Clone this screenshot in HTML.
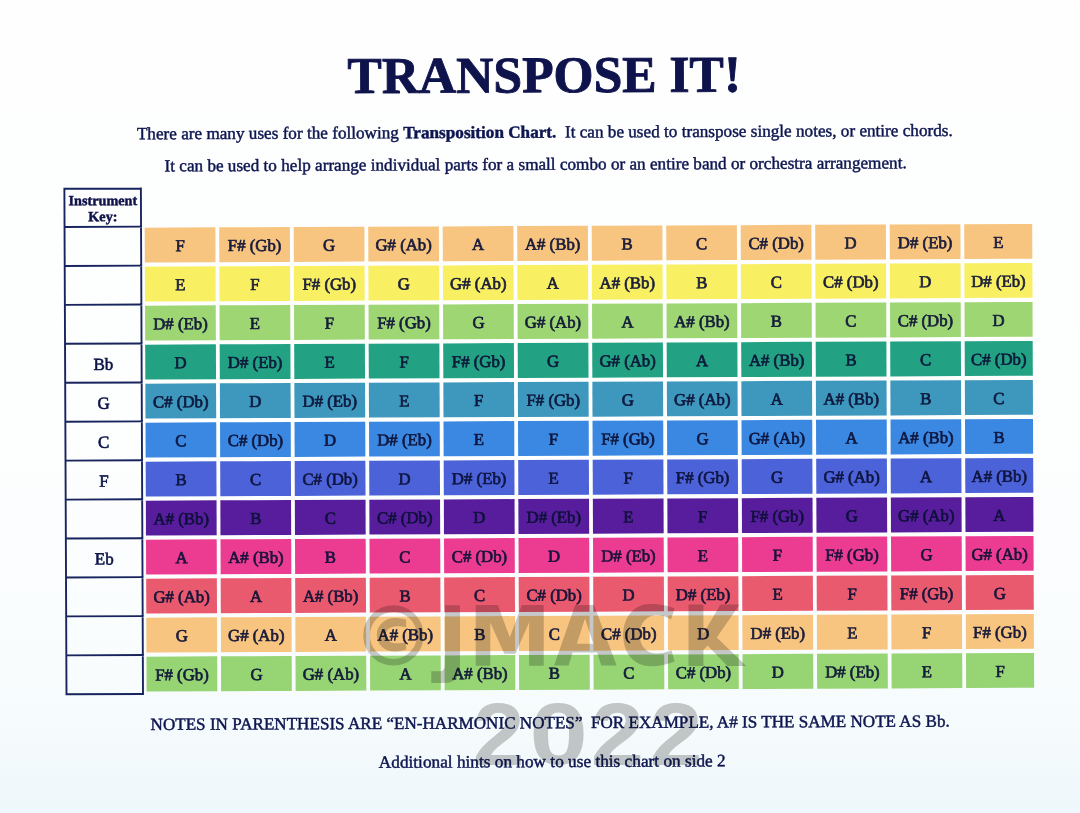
<!DOCTYPE html>
<html><head><meta charset="utf-8"><title>Transpose It!</title>
<style>
html,body{margin:0;padding:0;}
body{width:1080px;height:813px;overflow:hidden;position:relative;background:linear-gradient(180deg,#fefefe 0%,#fdfefe 55%,#fafdfe 78%,#f4fafc 92%,#eef7fb 100%);}
svg{position:absolute;left:0;top:0;filter:blur(0.45px);}
text{font-family:"Liberation Serif",serif;}
#wm{mix-blend-mode:multiply;}
#wm text{font-family:"Liberation Sans",sans-serif;font-weight:bold;}
</style></head><body>
<svg width="1080" height="813" viewBox="0 0 1080 813">
<g transform="rotate(-0.24 540 406.5)">
<text x="348.9" y="92.3" font-size="51.5" font-weight="bold" fill="#0f134c" stroke="#0f134c" stroke-width="0.9">TRANSPOSE IT!</text>
<g font-size="17.1" fill="#0d1650" stroke="#0d1650" stroke-width="0.45">
<text x="138.0" y="137.65" font-size="17.17" xml:space="preserve">There are many uses for the following <tspan font-weight="bold">Transposition Chart.</tspan>  It can be used to transpose single notes, or entire chords.</text>
<text x="165.5" y="169.85" font-size="17.17">It can be used to help arrange individual parts for a small combo or an entire band or orchestra arrangement.</text>
<text x="149.2" y="728.3" xml:space="preserve">NOTES IN PARENTHESIS ARE “EN-HARMONIC NOTES”  FOR EXAMPLE, A# IS THE SAME NOTE AS Bb.</text>
<text x="377.3" y="767.1" font-size="17.25">Additional hints on how to use this chart on side 2</text>
</g>
<g font-size="14.2" font-weight="bold" fill="#0e1248" stroke="#0e1248" stroke-width="0.45" text-anchor="middle">
<text x="103.7" y="203.40">Instrument</text>
<text x="103.7" y="219.40">Key:</text>
</g>
<path d="M65.30 185.85V693.25M141.80 185.85V693.25M64.35 186.80H142.75M64.35 225.00H142.75M64.35 263.94H142.75M64.35 302.88H142.75M64.35 341.82H142.75M64.35 380.77H142.75M64.35 419.71H142.75M64.35 458.65H142.75M64.35 497.59H142.75M64.35 536.53H142.75M64.35 575.47H142.75M64.35 614.42H142.75M64.35 653.36H142.75M64.35 692.30H142.75" stroke="#18245e" stroke-width="1.9" fill="none"/>
<g font-size="17" fill="#0c1448" stroke="#0c1448" stroke-width="0.6" text-anchor="middle"><text x="103.55" y="368.02">Bb</text><text x="103.55" y="406.97">G</text><text x="103.55" y="445.91">C</text><text x="103.55" y="484.85">F</text><text x="103.55" y="562.73">Eb</text></g>
<g><rect x="145.45" y="226.00" width="70.70" height="34.85" fill="#f7c580"/><rect x="219.95" y="226.00" width="70.70" height="34.85" fill="#f7c580"/><rect x="294.45" y="226.00" width="70.70" height="34.85" fill="#f7c580"/><rect x="368.95" y="226.00" width="70.70" height="34.85" fill="#f7c580"/><rect x="443.45" y="226.00" width="70.70" height="34.85" fill="#f7c580"/><rect x="517.95" y="226.00" width="70.70" height="34.85" fill="#f7c580"/><rect x="592.45" y="226.00" width="70.70" height="34.85" fill="#f7c580"/><rect x="666.95" y="226.00" width="70.70" height="34.85" fill="#f7c580"/><rect x="741.45" y="226.00" width="70.70" height="34.85" fill="#f7c580"/><rect x="815.95" y="226.00" width="70.70" height="34.85" fill="#f7c580"/><rect x="890.45" y="226.00" width="70.70" height="34.85" fill="#f7c580"/><rect x="964.95" y="226.00" width="68.00" height="34.85" fill="#f7c580"/><rect x="145.45" y="265.00" width="70.70" height="34.85" fill="#f8f062"/><rect x="219.95" y="265.00" width="70.70" height="34.85" fill="#f8f062"/><rect x="294.45" y="265.00" width="70.70" height="34.85" fill="#f8f062"/><rect x="368.95" y="265.00" width="70.70" height="34.85" fill="#f8f062"/><rect x="443.45" y="265.00" width="70.70" height="34.85" fill="#f8f062"/><rect x="517.95" y="265.00" width="70.70" height="34.85" fill="#f8f062"/><rect x="592.45" y="265.00" width="70.70" height="34.85" fill="#f8f062"/><rect x="666.95" y="265.00" width="70.70" height="34.85" fill="#f8f062"/><rect x="741.45" y="265.00" width="70.70" height="34.85" fill="#f8f062"/><rect x="815.95" y="265.00" width="70.70" height="34.85" fill="#f8f062"/><rect x="890.45" y="265.00" width="70.70" height="34.85" fill="#f8f062"/><rect x="964.95" y="265.00" width="68.00" height="34.85" fill="#f8f062"/><rect x="145.45" y="304.00" width="70.70" height="34.85" fill="#9ed674"/><rect x="219.95" y="304.00" width="70.70" height="34.85" fill="#9ed674"/><rect x="294.45" y="304.00" width="70.70" height="34.85" fill="#9ed674"/><rect x="368.95" y="304.00" width="70.70" height="34.85" fill="#9ed674"/><rect x="443.45" y="304.00" width="70.70" height="34.85" fill="#9ed674"/><rect x="517.95" y="304.00" width="70.70" height="34.85" fill="#9ed674"/><rect x="592.45" y="304.00" width="70.70" height="34.85" fill="#9ed674"/><rect x="666.95" y="304.00" width="70.70" height="34.85" fill="#9ed674"/><rect x="741.45" y="304.00" width="70.70" height="34.85" fill="#9ed674"/><rect x="815.95" y="304.00" width="70.70" height="34.85" fill="#9ed674"/><rect x="890.45" y="304.00" width="70.70" height="34.85" fill="#9ed674"/><rect x="964.95" y="304.00" width="68.00" height="34.85" fill="#9ed674"/><rect x="145.45" y="343.00" width="70.70" height="34.85" fill="#22a282"/><rect x="219.95" y="343.00" width="70.70" height="34.85" fill="#22a282"/><rect x="294.45" y="343.00" width="70.70" height="34.85" fill="#22a282"/><rect x="368.95" y="343.00" width="70.70" height="34.85" fill="#22a282"/><rect x="443.45" y="343.00" width="70.70" height="34.85" fill="#22a282"/><rect x="517.95" y="343.00" width="70.70" height="34.85" fill="#22a282"/><rect x="592.45" y="343.00" width="70.70" height="34.85" fill="#22a282"/><rect x="666.95" y="343.00" width="70.70" height="34.85" fill="#22a282"/><rect x="741.45" y="343.00" width="70.70" height="34.85" fill="#22a282"/><rect x="815.95" y="343.00" width="70.70" height="34.85" fill="#22a282"/><rect x="890.45" y="343.00" width="70.70" height="34.85" fill="#22a282"/><rect x="964.95" y="343.00" width="68.00" height="34.85" fill="#22a282"/><rect x="145.45" y="382.00" width="70.70" height="34.85" fill="#3e97bc"/><rect x="219.95" y="382.00" width="70.70" height="34.85" fill="#3e97bc"/><rect x="294.45" y="382.00" width="70.70" height="34.85" fill="#3e97bc"/><rect x="368.95" y="382.00" width="70.70" height="34.85" fill="#3e97bc"/><rect x="443.45" y="382.00" width="70.70" height="34.85" fill="#3e97bc"/><rect x="517.95" y="382.00" width="70.70" height="34.85" fill="#3e97bc"/><rect x="592.45" y="382.00" width="70.70" height="34.85" fill="#3e97bc"/><rect x="666.95" y="382.00" width="70.70" height="34.85" fill="#3e97bc"/><rect x="741.45" y="382.00" width="70.70" height="34.85" fill="#3e97bc"/><rect x="815.95" y="382.00" width="70.70" height="34.85" fill="#3e97bc"/><rect x="890.45" y="382.00" width="70.70" height="34.85" fill="#3e97bc"/><rect x="964.95" y="382.00" width="68.00" height="34.85" fill="#3e97bc"/><rect x="145.45" y="421.00" width="70.70" height="34.85" fill="#3b88e2"/><rect x="219.95" y="421.00" width="70.70" height="34.85" fill="#3b88e2"/><rect x="294.45" y="421.00" width="70.70" height="34.85" fill="#3b88e2"/><rect x="368.95" y="421.00" width="70.70" height="34.85" fill="#3b88e2"/><rect x="443.45" y="421.00" width="70.70" height="34.85" fill="#3b88e2"/><rect x="517.95" y="421.00" width="70.70" height="34.85" fill="#3b88e2"/><rect x="592.45" y="421.00" width="70.70" height="34.85" fill="#3b88e2"/><rect x="666.95" y="421.00" width="70.70" height="34.85" fill="#3b88e2"/><rect x="741.45" y="421.00" width="70.70" height="34.85" fill="#3b88e2"/><rect x="815.95" y="421.00" width="70.70" height="34.85" fill="#3b88e2"/><rect x="890.45" y="421.00" width="70.70" height="34.85" fill="#3b88e2"/><rect x="964.95" y="421.00" width="68.00" height="34.85" fill="#3b88e2"/><rect x="145.45" y="460.00" width="70.70" height="34.85" fill="#4c62d8"/><rect x="219.95" y="460.00" width="70.70" height="34.85" fill="#4c62d8"/><rect x="294.45" y="460.00" width="70.70" height="34.85" fill="#4c62d8"/><rect x="368.95" y="460.00" width="70.70" height="34.85" fill="#4c62d8"/><rect x="443.45" y="460.00" width="70.70" height="34.85" fill="#4c62d8"/><rect x="517.95" y="460.00" width="70.70" height="34.85" fill="#4c62d8"/><rect x="592.45" y="460.00" width="70.70" height="34.85" fill="#4c62d8"/><rect x="666.95" y="460.00" width="70.70" height="34.85" fill="#4c62d8"/><rect x="741.45" y="460.00" width="70.70" height="34.85" fill="#4c62d8"/><rect x="815.95" y="460.00" width="70.70" height="34.85" fill="#4c62d8"/><rect x="890.45" y="460.00" width="70.70" height="34.85" fill="#4c62d8"/><rect x="964.95" y="460.00" width="68.00" height="34.85" fill="#4c62d8"/><rect x="145.45" y="499.00" width="70.70" height="34.85" fill="#581d9c"/><rect x="219.95" y="499.00" width="70.70" height="34.85" fill="#581d9c"/><rect x="294.45" y="499.00" width="70.70" height="34.85" fill="#581d9c"/><rect x="368.95" y="499.00" width="70.70" height="34.85" fill="#581d9c"/><rect x="443.45" y="499.00" width="70.70" height="34.85" fill="#581d9c"/><rect x="517.95" y="499.00" width="70.70" height="34.85" fill="#581d9c"/><rect x="592.45" y="499.00" width="70.70" height="34.85" fill="#581d9c"/><rect x="666.95" y="499.00" width="70.70" height="34.85" fill="#581d9c"/><rect x="741.45" y="499.00" width="70.70" height="34.85" fill="#581d9c"/><rect x="815.95" y="499.00" width="70.70" height="34.85" fill="#581d9c"/><rect x="890.45" y="499.00" width="70.70" height="34.85" fill="#581d9c"/><rect x="964.95" y="499.00" width="68.00" height="34.85" fill="#581d9c"/><rect x="145.45" y="538.00" width="70.70" height="34.85" fill="#ec3c92"/><rect x="219.95" y="538.00" width="70.70" height="34.85" fill="#ec3c92"/><rect x="294.45" y="538.00" width="70.70" height="34.85" fill="#ec3c92"/><rect x="368.95" y="538.00" width="70.70" height="34.85" fill="#ec3c92"/><rect x="443.45" y="538.00" width="70.70" height="34.85" fill="#ec3c92"/><rect x="517.95" y="538.00" width="70.70" height="34.85" fill="#ec3c92"/><rect x="592.45" y="538.00" width="70.70" height="34.85" fill="#ec3c92"/><rect x="666.95" y="538.00" width="70.70" height="34.85" fill="#ec3c92"/><rect x="741.45" y="538.00" width="70.70" height="34.85" fill="#ec3c92"/><rect x="815.95" y="538.00" width="70.70" height="34.85" fill="#ec3c92"/><rect x="890.45" y="538.00" width="70.70" height="34.85" fill="#ec3c92"/><rect x="964.95" y="538.00" width="68.00" height="34.85" fill="#ec3c92"/><rect x="145.45" y="577.00" width="70.70" height="34.85" fill="#ea5a6e"/><rect x="219.95" y="577.00" width="70.70" height="34.85" fill="#ea5a6e"/><rect x="294.45" y="577.00" width="70.70" height="34.85" fill="#ea5a6e"/><rect x="368.95" y="577.00" width="70.70" height="34.85" fill="#ea5a6e"/><rect x="443.45" y="577.00" width="70.70" height="34.85" fill="#ea5a6e"/><rect x="517.95" y="577.00" width="70.70" height="34.85" fill="#ea5a6e"/><rect x="592.45" y="577.00" width="70.70" height="34.85" fill="#ea5a6e"/><rect x="666.95" y="577.00" width="70.70" height="34.85" fill="#ea5a6e"/><rect x="741.45" y="577.00" width="70.70" height="34.85" fill="#ea5a6e"/><rect x="815.95" y="577.00" width="70.70" height="34.85" fill="#ea5a6e"/><rect x="890.45" y="577.00" width="70.70" height="34.85" fill="#ea5a6e"/><rect x="964.95" y="577.00" width="68.00" height="34.85" fill="#ea5a6e"/><rect x="145.45" y="616.00" width="70.70" height="34.85" fill="#f7c580"/><rect x="219.95" y="616.00" width="70.70" height="34.85" fill="#f7c580"/><rect x="294.45" y="616.00" width="70.70" height="34.85" fill="#f7c580"/><rect x="368.95" y="616.00" width="70.70" height="34.85" fill="#f7c580"/><rect x="443.45" y="616.00" width="70.70" height="34.85" fill="#f7c580"/><rect x="517.95" y="616.00" width="70.70" height="34.85" fill="#f7c580"/><rect x="592.45" y="616.00" width="70.70" height="34.85" fill="#f7c580"/><rect x="666.95" y="616.00" width="70.70" height="34.85" fill="#f7c580"/><rect x="741.45" y="616.00" width="70.70" height="34.85" fill="#f7c580"/><rect x="815.95" y="616.00" width="70.70" height="34.85" fill="#f7c580"/><rect x="890.45" y="616.00" width="70.70" height="34.85" fill="#f7c580"/><rect x="964.95" y="616.00" width="68.00" height="34.85" fill="#f7c580"/><rect x="145.45" y="655.00" width="70.70" height="34.85" fill="#96d474"/><rect x="219.95" y="655.00" width="70.70" height="34.85" fill="#96d474"/><rect x="294.45" y="655.00" width="70.70" height="34.85" fill="#96d474"/><rect x="368.95" y="655.00" width="70.70" height="34.85" fill="#96d474"/><rect x="443.45" y="655.00" width="70.70" height="34.85" fill="#96d474"/><rect x="517.95" y="655.00" width="70.70" height="34.85" fill="#96d474"/><rect x="592.45" y="655.00" width="70.70" height="34.85" fill="#96d474"/><rect x="666.95" y="655.00" width="70.70" height="34.85" fill="#96d474"/><rect x="741.45" y="655.00" width="70.70" height="34.85" fill="#96d474"/><rect x="815.95" y="655.00" width="70.70" height="34.85" fill="#96d474"/><rect x="890.45" y="655.00" width="70.70" height="34.85" fill="#96d474"/><rect x="964.95" y="655.00" width="68.00" height="34.85" fill="#96d474"/></g>
<g font-size="16.8" fill="#0b1036" stroke="#0b1036" stroke-width="0.7" text-anchor="middle" opacity="0.93"><text x="180.80" y="249.80">F</text><text x="255.30" y="249.80">F# (Gb)</text><text x="329.80" y="249.80">G</text><text x="404.30" y="249.80">G# (Ab)</text><text x="478.80" y="249.80">A</text><text x="553.30" y="249.80">A# (Bb)</text><text x="627.80" y="249.80">B</text><text x="702.30" y="249.80">C</text><text x="776.80" y="249.80">C# (Db)</text><text x="851.30" y="249.80">D</text><text x="925.80" y="249.80">D# (Eb)</text><text x="998.95" y="249.80">E</text><text x="180.80" y="288.80">E</text><text x="255.30" y="288.80">F</text><text x="329.80" y="288.80">F# (Gb)</text><text x="404.30" y="288.80">G</text><text x="478.80" y="288.80">G# (Ab)</text><text x="553.30" y="288.80">A</text><text x="627.80" y="288.80">A# (Bb)</text><text x="702.30" y="288.80">B</text><text x="776.80" y="288.80">C</text><text x="851.30" y="288.80">C# (Db)</text><text x="925.80" y="288.80">D</text><text x="998.95" y="288.80">D# (Eb)</text><text x="180.80" y="327.80">D# (Eb)</text><text x="255.30" y="327.80">E</text><text x="329.80" y="327.80">F</text><text x="404.30" y="327.80">F# (Gb)</text><text x="478.80" y="327.80">G</text><text x="553.30" y="327.80">G# (Ab)</text><text x="627.80" y="327.80">A</text><text x="702.30" y="327.80">A# (Bb)</text><text x="776.80" y="327.80">B</text><text x="851.30" y="327.80">C</text><text x="925.80" y="327.80">C# (Db)</text><text x="998.95" y="327.80">D</text><text x="180.80" y="366.80">D</text><text x="255.30" y="366.80">D# (Eb)</text><text x="329.80" y="366.80">E</text><text x="404.30" y="366.80">F</text><text x="478.80" y="366.80">F# (Gb)</text><text x="553.30" y="366.80">G</text><text x="627.80" y="366.80">G# (Ab)</text><text x="702.30" y="366.80">A</text><text x="776.80" y="366.80">A# (Bb)</text><text x="851.30" y="366.80">B</text><text x="925.80" y="366.80">C</text><text x="998.95" y="366.80">C# (Db)</text><text x="180.80" y="405.80">C# (Db)</text><text x="255.30" y="405.80">D</text><text x="329.80" y="405.80">D# (Eb)</text><text x="404.30" y="405.80">E</text><text x="478.80" y="405.80">F</text><text x="553.30" y="405.80">F# (Gb)</text><text x="627.80" y="405.80">G</text><text x="702.30" y="405.80">G# (Ab)</text><text x="776.80" y="405.80">A</text><text x="851.30" y="405.80">A# (Bb)</text><text x="925.80" y="405.80">B</text><text x="998.95" y="405.80">C</text><text x="180.80" y="444.80">C</text><text x="255.30" y="444.80">C# (Db)</text><text x="329.80" y="444.80">D</text><text x="404.30" y="444.80">D# (Eb)</text><text x="478.80" y="444.80">E</text><text x="553.30" y="444.80">F</text><text x="627.80" y="444.80">F# (Gb)</text><text x="702.30" y="444.80">G</text><text x="776.80" y="444.80">G# (Ab)</text><text x="851.30" y="444.80">A</text><text x="925.80" y="444.80">A# (Bb)</text><text x="998.95" y="444.80">B</text><text x="180.80" y="483.80">B</text><text x="255.30" y="483.80">C</text><text x="329.80" y="483.80">C# (Db)</text><text x="404.30" y="483.80">D</text><text x="478.80" y="483.80">D# (Eb)</text><text x="553.30" y="483.80">E</text><text x="627.80" y="483.80">F</text><text x="702.30" y="483.80">F# (Gb)</text><text x="776.80" y="483.80">G</text><text x="851.30" y="483.80">G# (Ab)</text><text x="925.80" y="483.80">A</text><text x="998.95" y="483.80">A# (Bb)</text><text x="180.80" y="522.80">A# (Bb)</text><text x="255.30" y="522.80">B</text><text x="329.80" y="522.80">C</text><text x="404.30" y="522.80">C# (Db)</text><text x="478.80" y="522.80">D</text><text x="553.30" y="522.80">D# (Eb)</text><text x="627.80" y="522.80">E</text><text x="702.30" y="522.80">F</text><text x="776.80" y="522.80">F# (Gb)</text><text x="851.30" y="522.80">G</text><text x="925.80" y="522.80">G# (Ab)</text><text x="998.95" y="522.80">A</text><text x="180.80" y="561.80">A</text><text x="255.30" y="561.80">A# (Bb)</text><text x="329.80" y="561.80">B</text><text x="404.30" y="561.80">C</text><text x="478.80" y="561.80">C# (Db)</text><text x="553.30" y="561.80">D</text><text x="627.80" y="561.80">D# (Eb)</text><text x="702.30" y="561.80">E</text><text x="776.80" y="561.80">F</text><text x="851.30" y="561.80">F# (Gb)</text><text x="925.80" y="561.80">G</text><text x="998.95" y="561.80">G# (Ab)</text><text x="180.80" y="600.80">G# (Ab)</text><text x="255.30" y="600.80">A</text><text x="329.80" y="600.80">A# (Bb)</text><text x="404.30" y="600.80">B</text><text x="478.80" y="600.80">C</text><text x="553.30" y="600.80">C# (Db)</text><text x="627.80" y="600.80">D</text><text x="702.30" y="600.80">D# (Eb)</text><text x="776.80" y="600.80">E</text><text x="851.30" y="600.80">F</text><text x="925.80" y="600.80">F# (Gb)</text><text x="998.95" y="600.80">G</text><text x="180.80" y="639.80">G</text><text x="255.30" y="639.80">G# (Ab)</text><text x="329.80" y="639.80">A</text><text x="404.30" y="639.80">A# (Bb)</text><text x="478.80" y="639.80">B</text><text x="553.30" y="639.80">C</text><text x="627.80" y="639.80">C# (Db)</text><text x="702.30" y="639.80">D</text><text x="776.80" y="639.80">D# (Eb)</text><text x="851.30" y="639.80">E</text><text x="925.80" y="639.80">F</text><text x="998.95" y="639.80">F# (Gb)</text><text x="180.80" y="678.80">F# (Gb)</text><text x="255.30" y="678.80">G</text><text x="329.80" y="678.80">G# (Ab)</text><text x="404.30" y="678.80">A</text><text x="478.80" y="678.80">A# (Bb)</text><text x="553.30" y="678.80">B</text><text x="627.80" y="678.80">C</text><text x="702.30" y="678.80">C# (Db)</text><text x="776.80" y="678.80">D</text><text x="851.30" y="678.80">D# (Eb)</text><text x="925.80" y="678.80">E</text><text x="998.95" y="678.80">F</text></g>
</g>
</svg>
<svg id="wm" width="1080" height="813" viewBox="0 0 1080 813">
<g fill="#c9c9c9">
<circle cx="393.4" cy="635.4" r="26.8" fill="none" stroke="#c9c9c9" stroke-width="6.6"/><path d="M406.1,619.8C402,618.4 398.5,617.9 394.5,617.9C384.5,617.9 376.8,625.5 376.8,634.7C376.8,644 384.5,651.5 394.5,651.5C398.5,651.5 402,651 406.1,649.5L406.1,642.5C403,643.1 400,643.3 396.5,643.3C390.5,643.3 385.5,639.5 385.5,634.7C385.5,630 390.5,626.2 396.5,626.2C400,626.2 403,626.5 406.1,627.2Z"/><path d="M445,605.2H460V665Q460,683 444,683H431.3V671.3H440.5Q445,671.3 445,664Z"/><path d="M475.7,665.8V605.1H497.8L509.8,637.5L521.8,605.1H543.7V665.8H529.1V622.5L515.3,653.8H504.3L490.3,622.5V665.8Z"/><path fill-rule="evenodd" d="M554.1,665.6L575.2,604.9H594L616.6,665.6H601.3L597.2,652.5H572.6L568.6,665.6ZM576.8,643.7H593.3L585,618.6Z"/><path d="M674.6,608.5C666,604.8 658,603.9 650.5,603.9C634,603.9 623.2,617 623.2,635C623.2,653 634,666.2 650.5,666.2C659,666.2 667,664.5 674.6,661.5L671.5,650.2C666.5,652.5 661.5,653.5 656.5,653.5C646.5,653.5 639.6,645.5 639.6,634.4C639.6,623.5 646.5,615.3 656.5,615.3C661.5,615.3 666.5,616.5 671,619.5Z"/><path d="M688.5,604.6H703.4V633.5L720.4,604.6H739.6L716.8,637.5L746.2,666H727.4L707.6,645.5L703.4,650V666H688.5Z"/>
<g stroke="none"><text transform="translate(472.85,764.70) scale(1.048,1)" font-size="88.68">2</text><text transform="translate(529.61,763.91) scale(1.198,1)" font-size="87.55">0</text><text transform="translate(590.65,764.70) scale(1.081,1)" font-size="88.68">2</text><text transform="translate(649.68,764.70) scale(1.069,1)" font-size="88.68">2</text></g>
</g>
</svg>
</body></html>
